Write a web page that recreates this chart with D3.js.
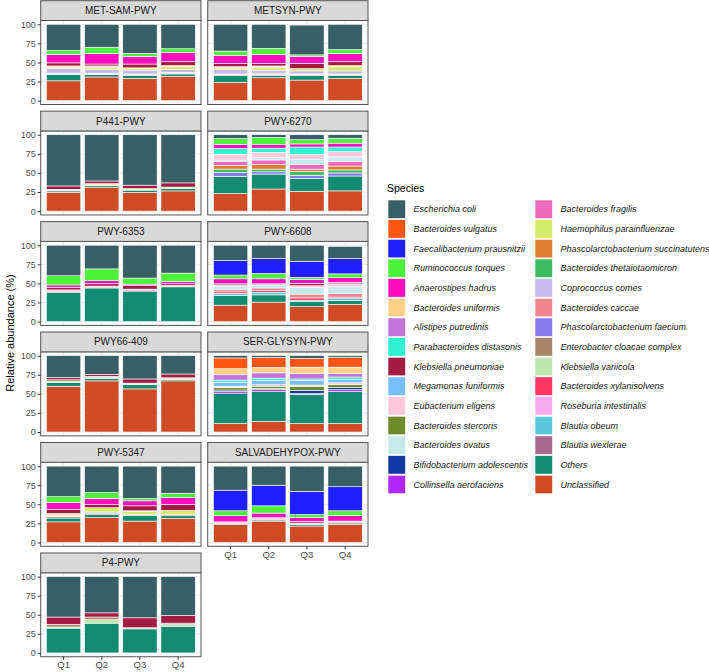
<!DOCTYPE html>
<html>
<head>
<meta charset="utf-8">
<script src="https://cdn.jsdelivr.net/npm/d3@7"></script>
<style>
  body { margin: 0; background: #fff; }
  svg { font-family: "Liberation Sans", Arial, sans-serif; }
</style>
</head>
<body>
<div class="chart"></div>
<script>
// quarters on the x axis
var quarters = ["Q1", "Q2", "Q3", "Q4"];

// species, legend order (first one sits on top of each bar)
var species = [
  "Escherichia coli", "Bacteroides vulgatus", "Faecalibacterium prausnitzii",
  "Ruminococcus torques", "Anaerostipes hadrus", "Bacteroides uniformis",
  "Alistipes putredinis", "Parabacteroides distasonis", "Klebsiella pneumoniae",
  "Megamonas funiformis", "Eubacterium eligens", "Bacteroides stercoris",
  "Bacteroides ovatus", "Bifidobacterium adolescentis", "Collinsella aerofaciens",
  "Bacteroides fragilis", "Haemophilus parainfluenzae", "Phascolarctobacterium succinatutens",
  "Bacteroides thetaiotaomicron", "Coprococcus comes", "Bacteroides caccae",
  "Phascolarctobacterium faecium", "Enterobacter cloacae complex", "Klebsiella variicola",
  "Bacteroides xylanisolvens", "Roseburia intestinalis", "Blautia obeum",
  "Blautia wexlerae", "Others", "Unclassified"
];

var speciesColors = [
  "#385E66", "#FF5512", "#1F1FFF", "#4DF23A", "#FF0DBF", "#FFD08A",
  "#C374DB", "#30F2D2", "#A31A45", "#78BFFF", "#FFC9DB", "#6E8B2B",
  "#C6E9EC", "#1338A3", "#B026FF", "#EC6AB9", "#D5EB6A", "#E07C30",
  "#3DBB60", "#C4BAEE", "#EF888E", "#8A78EE", "#A8856B", "#BDE8AF",
  "#FF3563", "#F5AAEE", "#5AC8DC", "#A86A8C", "#138A72", "#CF4B26"
];

var pathways = [
  "MET-SAM-PWY", "METSYN-PWY", "P441-PWY", "PWY-6270", "PWY-6353", "PWY-6608",
  "PWY66-409", "SER-GLYSYN-PWY", "PWY-5347", "SALVADEHYPOX-PWY", "P4-PWY"
];

// relative abundance (%) per pathway: [species, Q1, Q2, Q3, Q4]
var metSamPwy = [
  ["Unclassified", 26, 31, 29, 32],
  ["Others", 8, 3, 4, 3],
  ["Enterobacter cloacae complex", 1, 1, 1, 1],
  ["Bacteroides caccae", 1, 1, 1, 1],
  ["Coprococcus comes", 6, 5, 5, 4],
  ["Haemophilus parainfluenzae", 2, 3, 2, 4],
  ["Eubacterium eligens", 1.5, 1.5, 1, 1],
  ["Klebsiella pneumoniae", 4, 2.5, 5, 5],
  ["Anaerostipes hadrus", 11, 14, 10, 12],
  ["Ruminococcus torques", 5, 8, 4, 5],
  ["Escherichia coli", 34.5, 30, 38, 32]
];

var metsynPwy = [
  ["Unclassified", 24, 30, 27, 29],
  ["Others", 9, 3, 6, 4],
  ["Enterobacter cloacae complex", 1, 1.5, 1, 1],
  ["Bacteroides caccae", 1, 1.5, 1, 1],
  ["Coprococcus comes", 6, 4, 4, 4],
  ["Haemophilus parainfluenzae", 2, 4, 3, 6],
  ["Eubacterium eligens", 1.5, 1.5, 0, 1],
  ["Klebsiella pneumoniae", 4, 3, 7, 5],
  ["Anaerostipes hadrus", 11, 12, 9, 11],
  ["Ruminococcus torques", 5.5, 8, 2, 5],
  ["Escherichia coli", 35, 31.5, 39, 33]
];

var p441Pwy = [
  ["Unclassified", 24.5, 31.5, 24.5, 26.5],
  ["Others", 2, 2, 3, 3],
  ["Klebsiella variicola", 0, 1, 0, 0],
  ["Enterobacter cloacae complex", 1, 0, 0.5, 0],
  ["Haemophilus parainfluenzae", 1, 1.5, 1.5, 2],
  ["Klebsiella pneumoniae", 4.5, 3.5, 4.5, 5.5],
  ["Escherichia coli", 67, 60.5, 66, 63]
];

var pwy6270 = [
  ["Unclassified", 23, 29, 26, 26.5],
  ["Others", 22.5, 19.5, 17, 19.5],
  ["Phascolarctobacterium faecium", 5, 3, 4, 4],
  ["Bacteroides thetaiotaomicron", 4.5, 3.5, 5, 4],
  ["Phascolarctobacterium succinatutens", 5, 6, 3, 5],
  ["Bacteroides fragilis", 5, 6, 6, 6],
  ["Bacteroides ovatus", 2, 3, 7, 6],
  ["Eubacterium eligens", 7.5, 7, 6, 7],
  ["Parabacteroides distasonis", 7.5, 5.5, 10, 6],
  ["Anaerostipes hadrus", 5.5, 4.5, 4, 5],
  ["Ruminococcus torques", 7.5, 9.5, 5.5, 6.5],
  ["Escherichia coli", 5, 3.5, 6.5, 4.5]
];

var pwy6353 = [
  ["Others", 38.5, 44, 40, 45.5],
  ["Eubacterium eligens", 3, 2.5, 2.5, 2],
  ["Klebsiella pneumoniae", 3.5, 3, 4.5, 2],
  ["Anaerostipes hadrus", 3, 4, 2, 3],
  ["Ruminococcus torques", 12, 15.5, 8, 11],
  ["Escherichia coli", 40, 31, 43, 36.5]
];

var pwy6608 = [
  ["Unclassified", 21.5, 25.5, 19.5, 22.5],
  ["Others", 12.5, 9.5, 6.5, 5],
  ["Blautia obeum", 3, 3.5, 2, 2.5],
  ["Bacteroides xylanisolvens", 2, 2, 3, 2],
  ["Bacteroides caccae", 3, 3.5, 5, 4.5],
  ["Bacteroides ovatus", 4, 3.5, 9, 9],
  ["Eubacterium eligens", 2, 1, 2, 4],
  ["Klebsiella pneumoniae", 1.5, 1, 3, 2],
  ["Anaerostipes hadrus", 6.5, 6.5, 5, 6],
  ["Ruminococcus torques", 5, 7, 3, 5],
  ["Faecalibacterium prausnitzii", 19, 19.5, 21, 20],
  ["Escherichia coli", 20, 17.5, 21, 16]
];

var pwy66409 = [
  ["Unclassified", 60, 67, 56.5, 67],
  ["Others", 5, 3.5, 6, 2],
  ["Klebsiella variicola", 1.5, 1, 0.5, 1],
  ["Enterobacter cloacae complex", 2, 1.5, 1, 1],
  ["Klebsiella pneumoniae", 3, 2.5, 5.5, 5],
  ["Escherichia coli", 28.5, 24.5, 30.5, 24]
];

var serGlysynPwy = [
  ["Unclassified", 11, 14, 11, 11],
  ["Others", 40, 39.5, 38.5, 42.5],
  ["Collinsella aerofaciens", 2, 2.5, 1, 2],
  ["Bifidobacterium adolescentis", 2, 1, 4, 3],
  ["Bacteroides stercoris", 3, 3, 5, 3.5],
  ["Eubacterium eligens", 2, 2, 2, 2.5],
  ["Megamonas funiformis", 5, 5.5, 6, 4.5],
  ["Parabacteroides distasonis", 3, 3, 2, 3],
  ["Alistipes putredinis", 7, 7, 7, 4.5],
  ["Bacteroides uniformis", 8, 7, 8.5, 8.5],
  ["Bacteroides vulgatus", 14, 13, 11.5, 13],
  ["Escherichia coli", 3, 2.5, 3.5, 2]
];

var pwy5347 = [
  ["Unclassified", 27, 32.5, 28, 31.5],
  ["Others", 5, 4, 7.5, 3.5],
  ["Enterobacter cloacae complex", 2, 2, 1.5, 2],
  ["Coprococcus comes", 0, 1.5, 0, 0],
  ["Haemophilus parainfluenzae", 2, 5.5, 3.5, 5],
  ["Eubacterium eligens", 2, 0, 1, 0],
  ["Klebsiella pneumoniae", 5.5, 4, 6.5, 8],
  ["Anaerostipes hadrus", 9, 8, 6.5, 9],
  ["Ruminococcus torques", 7.5, 8, 3, 5.5],
  ["Escherichia coli", 40, 34.5, 42.5, 35.5]
];

var salvadehypoxPwy = [
  ["Unclassified", 23.5, 28, 21.5, 23.5],
  ["Others", 1.5, 1.5, 2, 2],
  ["Eubacterium eligens", 2, 2, 2, 2.5],
  ["Klebsiella pneumoniae", 0, 1, 2, 0],
  ["Anaerostipes hadrus", 8, 6, 5, 7.5],
  ["Ruminococcus torques", 6.5, 9.5, 4, 6],
  ["Faecalibacterium prausnitzii", 27, 27, 30.5, 31.5],
  ["Escherichia coli", 31.5, 25, 33, 27]
];

var p4Pwy = [
  ["Others", 32.5, 39, 31.5, 35],
  ["Klebsiella variicola", 1.5, 4.5, 1.5, 2],
  ["Enterobacter cloacae complex", 3.5, 3.5, 0, 2],
  ["Klebsiella pneumoniae", 9.5, 5.5, 13, 10],
  ["Escherichia coli", 53, 47.5, 54, 51]
];

var pathwayData = [metSamPwy, metsynPwy, p441Pwy, pwy6270, pwy6353, pwy6608,
  pwy66409, serGlysynPwy, pwy5347, salvadehypoxPwy, p4Pwy];

// layout
var svgWidth = 709;
var svgHeight = 672;
var colX = [[40.7, 201], [207.7, 368]];
var rowStep = 110.45;
var stripH = 19.8;
var panelH = 84;
var firstStripTop = 0.7;

var svg = d3.select(".chart")
  .append("svg")
  .attr("width", svgWidth)
  .attr("height", svgHeight);

var color = d3.scaleOrdinal().domain(species).range(speciesColors);

// bottom of the stack first
var stack = d3.stack().keys(species.slice().reverse());

pathways.forEach(function(name, i) {
  var row = Math.floor(i / 2);
  var col = i % 2;
  var x0 = colX[col][0], x1 = colX[col][1];
  var stripTop = firstStripTop + row * rowStep;
  var top = stripTop + stripH;
  var bottom = top + panelH;

  var x = d3.scaleBand().domain(quarters).range([x0, x1])
    .paddingInner(0.1).paddingOuter(0.15);
  var y = d3.scaleLinear().domain([-5, 105]).range([bottom, top]);

  var g = svg.append("g");

  // panel background and grid
  g.append("rect")
    .attr("x", x0).attr("y", top)
    .attr("width", x1 - x0).attr("height", panelH)
    .attr("fill", "#fff");

  g.selectAll(".minor")
    .data([12.5, 37.5, 62.5, 87.5])
    .enter().append("line")
    .attr("x1", x0).attr("x2", x1)
    .attr("y1", d => y(d)).attr("y2", d => y(d))
    .attr("stroke", "#F2F2F2").attr("stroke-width", 0.5);

  g.selectAll(".major")
    .data([0, 25, 50, 75, 100])
    .enter().append("line")
    .attr("x1", x0).attr("x2", x1)
    .attr("y1", d => y(d)).attr("y2", d => y(d))
    .attr("stroke", "#EBEBEB").attr("stroke-width", 1);

  g.selectAll(".vgrid")
    .data(quarters)
    .enter().append("line")
    .attr("x1", d => x(d) + x.bandwidth() / 2).attr("x2", d => x(d) + x.bandwidth() / 2)
    .attr("y1", top).attr("y2", bottom)
    .attr("stroke", "#EBEBEB").attr("stroke-width", 1);

  // one row per quarter
  var rows = quarters.map(function(q, qi) {
    var r = { quarter: q };
    species.forEach(function(s) { r[s] = 0; });
    pathwayData[i].forEach(function(d) { r[d[0]] = d[qi + 1]; });
    return r;
  });

  var series = stack(rows);

  g.selectAll(".layer")
    .data(series.filter(s => s.some(d => d[1] - d[0] > 0)))
    .enter().append("g")
    .attr("fill", d => color(d.key))
    .selectAll("rect")
    .data(d => d.filter(p => p[1] - p[0] > 0))
    .enter().append("rect")
    .attr("x", d => x(d.data.quarter))
    .attr("width", x.bandwidth())
    .attr("y", d => y(d[1]))
    .attr("height", d => y(d[0]) - y(d[1]))
    .attr("stroke", "#fff")
    .attr("stroke-width", 0.6);

  // panel border
  g.append("rect")
    .attr("x", x0).attr("y", top)
    .attr("width", x1 - x0).attr("height", panelH)
    .attr("fill", "none")
    .attr("stroke", "#555").attr("stroke-width", 1);

  // strip
  g.append("rect")
    .attr("x", x0).attr("y", stripTop)
    .attr("width", x1 - x0).attr("height", stripH)
    .attr("fill", "#D9D9D9")
    .attr("stroke", "#555").attr("stroke-width", 1);

  g.append("text")
    .attr("x", (x0 + x1) / 2)
    .attr("y", stripTop + stripH / 2)
    .attr("dy", "0.35em")
    .attr("text-anchor", "middle")
    .attr("font-size", 10)
    .attr("fill", "#1A1A1A")
    .text(name);

  // y axis on the left column only
  if (col === 0) {
    var leftAxis = d3.axisLeft(y).tickValues([0, 25, 50, 75, 100]).tickSize(3).tickPadding(2);
    var ya = g.append("g")
      .attr("transform", `translate(${x0}, 0)`)
      .call(leftAxis);
    ya.select(".domain").remove();
    ya.selectAll("line").attr("stroke", "#333");
    ya.selectAll("text").attr("font-size", 9).attr("fill", "#4D4D4D")
      .attr("font-family", "Liberation Sans, Arial, sans-serif");
  }

  // x axis under the last panel of each column
  if (i === 9 || i === 10) {
    var bottomAxis = d3.axisBottom(x).tickSize(3).tickPadding(2);
    var xa = g.append("g")
      .attr("transform", `translate(0, ${bottom})`)
      .call(bottomAxis);
    xa.select(".domain").remove();
    xa.selectAll("line").attr("stroke", "#333");
    xa.selectAll("text").attr("font-size", 9.5).attr("fill", "#4D4D4D")
      .attr("font-family", "Liberation Sans, Arial, sans-serif");
  }
});

// y axis title
svg.append("text")
  .attr("transform", "translate(10, 333) rotate(-90)")
  .attr("text-anchor", "middle")
  .attr("dy", "0.35em")
  .attr("font-size", 11)
  .attr("fill", "#000")
  .text("Relative abundance (%)");

// legend
var legend = svg.append("g");

legend.append("text")
  .attr("x", 387)
  .attr("y", 192)
  .attr("font-size", 10.5)
  .attr("fill", "#000")
  .text("Species");

var keyTop = 200;
var keyStep = 19.66;
var legendCols = [388, 535];

var items = legend.selectAll(".item")
  .data(species)
  .enter().append("g")
  .attr("transform", function(d, k) {
    var c = Math.floor(k / 15), r = k % 15;
    return `translate(${legendCols[c]}, ${keyTop + r * keyStep})`;
  });

items.append("rect")
  .attr("width", 17.5).attr("height", 18.5)
  .attr("fill", d => color(d))
  .attr("stroke", "#fff").attr("stroke-width", 0.6);

items.append("text")
  .attr("x", 25.5)
  .attr("y", 9.3)
  .attr("dy", "0.35em")
  .attr("font-size", 9)
  .attr("font-style", "italic")
  .attr("fill", "#1A1A1A")
  .text(d => d);
</script>
</body>
</html>
